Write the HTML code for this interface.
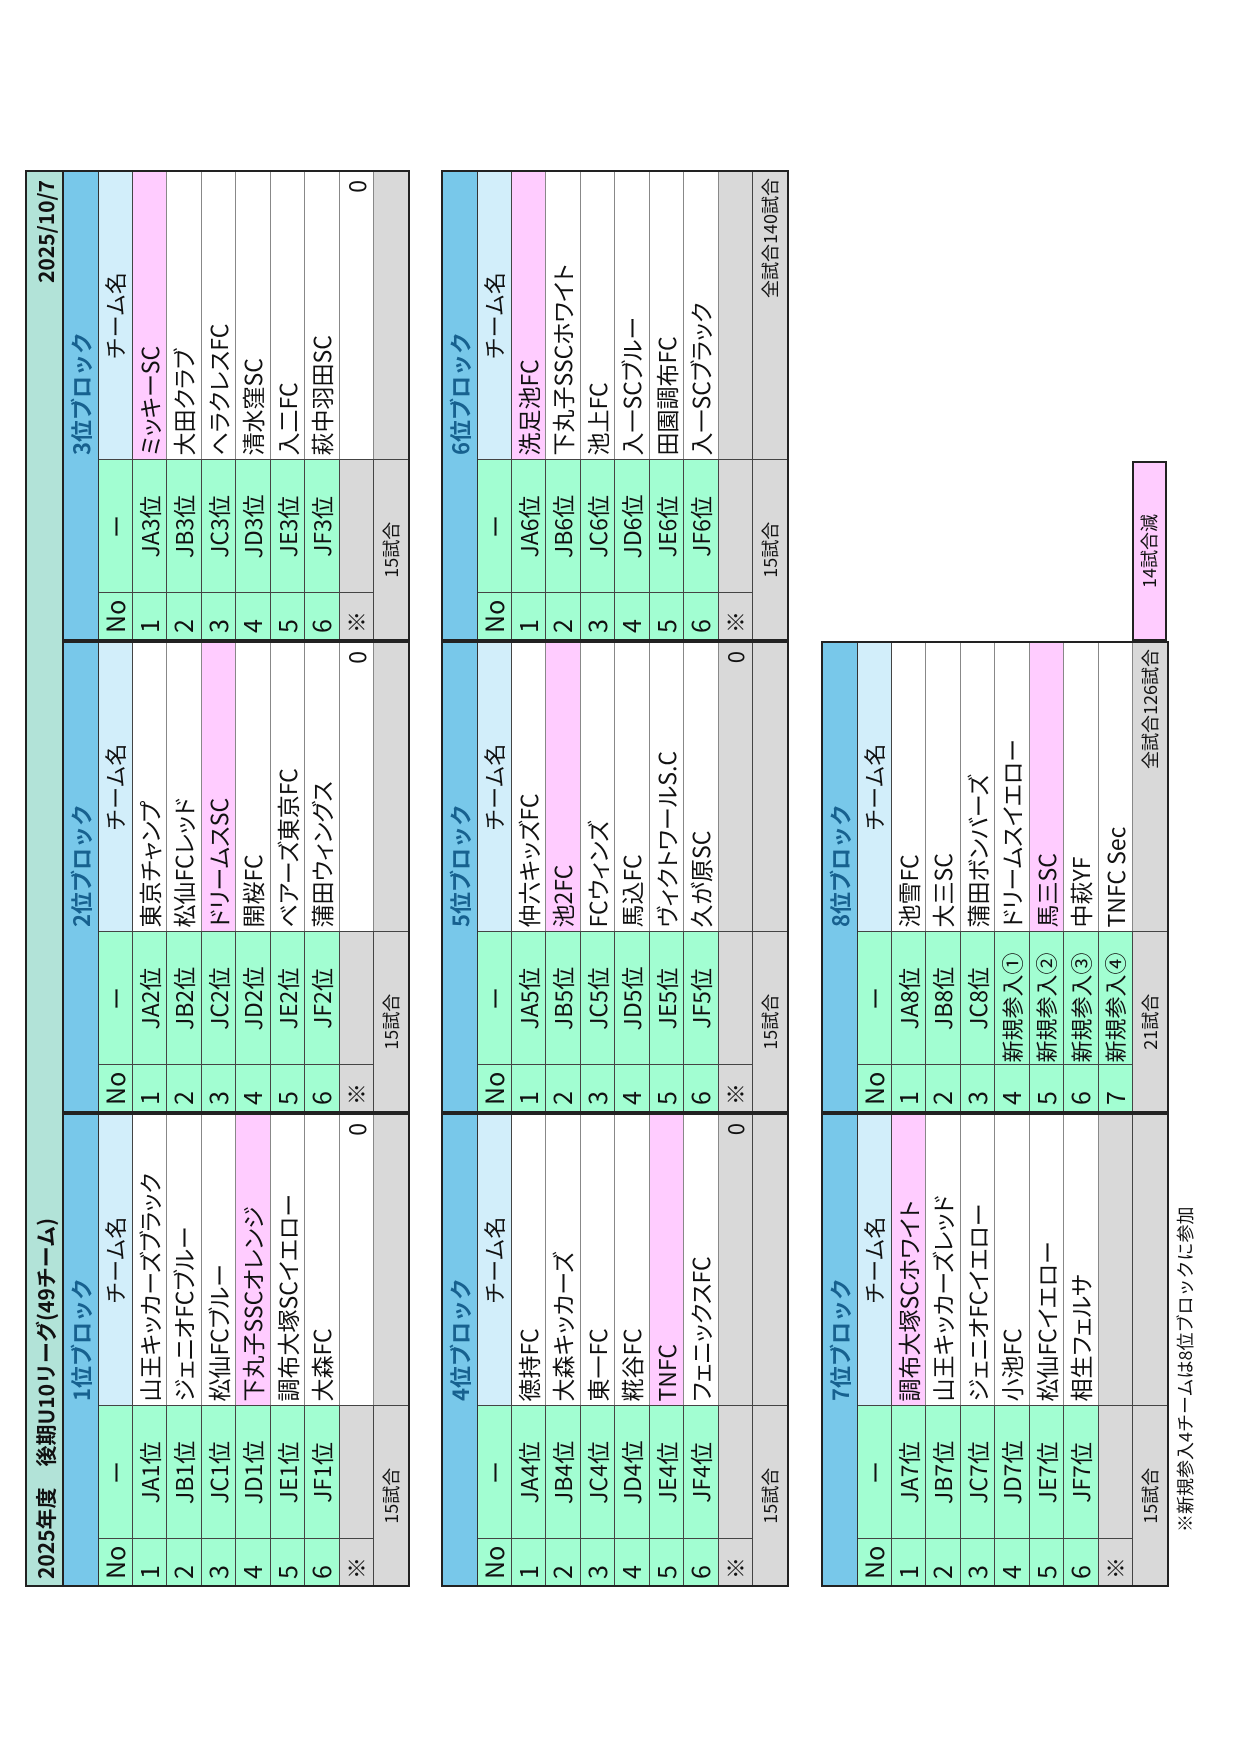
<!DOCTYPE html>
<html><head><meta charset="utf-8">
<style>
html,body{margin:0;padding:0;background:#fff;}
body{width:1240px;height:1754px;position:relative;overflow:hidden;}
#L{position:absolute;left:0;top:0;width:1754px;height:1240px;transform-origin:0 0;transform:translate(0,1754px) rotate(-90deg);font-family:"Noto Sans CJK JP","Liberation Sans",sans-serif;color:#111;}
table{position:absolute;border-collapse:collapse;table-layout:fixed;border:2.5px solid #222;}
td{border:1px solid #444;padding:0 0 0 6px;white-space:nowrap;overflow:hidden;font-size:22px;line-height:1;box-sizing:border-box;}
tr{height:34.5px;}
tr.bh{height:35px;}
tr.hd{height:34px;}
tr.ft{height:35px;}
td.bh{background:#78c8ea;color:#17618f;padding-left:184px;font-size:22px;font-weight:bold;border-bottom:1.5px solid #333;}
td.n{background:#a2fed2;font-size:25px;}
td.r{background:#a2fed2;text-align:center;padding:0;font-size:23px;}
td.t{background:#fff;border-top-color:#888;border-bottom-color:#888;padding-left:4px;font-feature-settings:"palt";font-size:23px;}
td.p{background:#ffccff;}
td.h{background:#d2eefa;text-align:center;padding:0;}
td.g{background:#d9d9d9;}
td.z{text-align:right;padding-right:8px;}
td.f{background:#d9d9d9;text-align:center;font-size:18px;padding:0;}
td.fr{background:#d9d9d9;text-align:right;font-size:18px;padding-right:6px;}
tr.ft td{border-top:1.5px solid #333;}
td.nw{font-size:22px;padding-left:2px;}
#title{position:absolute;left:167px;top:25px;width:1417px;height:37px;box-sizing:border-box;background:#b2e3d8;border:2.5px solid #222;border-bottom:none;font-weight:bold;font-size:21px;}
#title .a{position:absolute;left:6px;top:4px;}
#title .b{position:absolute;right:8px;top:4px;}
#pk{position:absolute;left:1113px;top:1132px;width:180px;height:35px;box-sizing:border-box;background:#ffccff;border:2.5px solid #222;font-size:18px;text-align:center;line-height:31px;}
#note{position:absolute;left:222px;top:1172px;font-size:18px;}
</style></head><body>
<div id="L">
<div id="title"><span class="a">2025年度　後期U10リーグ(49チーム)</span><span class="b">2025/10/7</span></div>

<table style="left:167px;top:62px;width:474px;">
<colgroup><col style="width:47px"><col style="width:133px"><col></colgroup>
<tr class="bh"><td class="bh" colspan="3">1位ブロック</td></tr>
<tr class="hd"><td class="n">No</td><td class="r">ー</td><td class="h">チーム名</td></tr>
<tr><td class="n">1</td><td class="r">JA1位</td><td class="t">山王キッカーズブラック</td></tr>
<tr><td class="n">2</td><td class="r">JB1位</td><td class="t">ジェニオFCブルー</td></tr>
<tr><td class="n">3</td><td class="r">JC1位</td><td class="t">松仙FCブルー</td></tr>
<tr><td class="n">4</td><td class="r">JD1位</td><td class="t p">下丸子SSCオレンジ</td></tr>
<tr><td class="n">5</td><td class="r">JE1位</td><td class="t">調布大塚SCイエロー</td></tr>
<tr><td class="n">6</td><td class="r">JF1位</td><td class="t">大森FC</td></tr>
<tr><td class="g">※</td><td class="g"></td><td class="t z">0</td></tr>
<tr class="ft"><td class="f" colspan="2">15試合</td><td class="fr"></td></tr>
</table>

<table style="left:641px;top:62px;width:472px;">
<colgroup><col style="width:47px"><col style="width:133px"><col></colgroup>
<tr class="bh"><td class="bh" colspan="3">2位ブロック</td></tr>
<tr class="hd"><td class="n">No</td><td class="r">ー</td><td class="h">チーム名</td></tr>
<tr><td class="n">1</td><td class="r">JA2位</td><td class="t">東京チャンプ</td></tr>
<tr><td class="n">2</td><td class="r">JB2位</td><td class="t">松仙FCレッド</td></tr>
<tr><td class="n">3</td><td class="r">JC2位</td><td class="t p">ドリームスSC</td></tr>
<tr><td class="n">4</td><td class="r">JD2位</td><td class="t">開桜FC</td></tr>
<tr><td class="n">5</td><td class="r">JE2位</td><td class="t">ベアーズ東京FC</td></tr>
<tr><td class="n">6</td><td class="r">JF2位</td><td class="t">蒲田ウィングス</td></tr>
<tr><td class="g">※</td><td class="g"></td><td class="t z">0</td></tr>
<tr class="ft"><td class="f" colspan="2">15試合</td><td class="fr"></td></tr>
</table>

<table style="left:1113px;top:62px;width:471px;">
<colgroup><col style="width:47px"><col style="width:133px"><col></colgroup>
<tr class="bh"><td class="bh" colspan="3">3位ブロック</td></tr>
<tr class="hd"><td class="n">No</td><td class="r">ー</td><td class="h">チーム名</td></tr>
<tr><td class="n">1</td><td class="r">JA3位</td><td class="t p">ミッキーSC</td></tr>
<tr><td class="n">2</td><td class="r">JB3位</td><td class="t">大田クラブ</td></tr>
<tr><td class="n">3</td><td class="r">JC3位</td><td class="t">ヘラクレスFC</td></tr>
<tr><td class="n">4</td><td class="r">JD3位</td><td class="t">清水窪SC</td></tr>
<tr><td class="n">5</td><td class="r">JE3位</td><td class="t">入二FC</td></tr>
<tr><td class="n">6</td><td class="r">JF3位</td><td class="t">萩中羽田SC</td></tr>
<tr><td class="g">※</td><td class="g"></td><td class="t z">0</td></tr>
<tr class="ft"><td class="f" colspan="2">15試合</td><td class="fr"></td></tr>
</table>

<table style="left:167px;top:441px;width:474px;">
<colgroup><col style="width:47px"><col style="width:133px"><col></colgroup>
<tr class="bh"><td class="bh" colspan="3">4位ブロック</td></tr>
<tr class="hd"><td class="n">No</td><td class="r">ー</td><td class="h">チーム名</td></tr>
<tr><td class="n">1</td><td class="r">JA4位</td><td class="t">徳持FC</td></tr>
<tr><td class="n">2</td><td class="r">JB4位</td><td class="t">大森キッカーズ</td></tr>
<tr><td class="n">3</td><td class="r">JC4位</td><td class="t">東一FC</td></tr>
<tr><td class="n">4</td><td class="r">JD4位</td><td class="t">糀谷FC</td></tr>
<tr><td class="n">5</td><td class="r">JE4位</td><td class="t p">TNFC</td></tr>
<tr><td class="n">6</td><td class="r">JF4位</td><td class="t">フェニックスFC</td></tr>
<tr><td class="g">※</td><td class="g"></td><td class="g z">0</td></tr>
<tr class="ft"><td class="f" colspan="2">15試合</td><td class="fr"></td></tr>
</table>

<table style="left:641px;top:441px;width:472px;">
<colgroup><col style="width:47px"><col style="width:133px"><col></colgroup>
<tr class="bh"><td class="bh" colspan="3">5位ブロック</td></tr>
<tr class="hd"><td class="n">No</td><td class="r">ー</td><td class="h">チーム名</td></tr>
<tr><td class="n">1</td><td class="r">JA5位</td><td class="t">仲六キッズFC</td></tr>
<tr><td class="n">2</td><td class="r">JB5位</td><td class="t p">池2FC</td></tr>
<tr><td class="n">3</td><td class="r">JC5位</td><td class="t">FCウィンズ</td></tr>
<tr><td class="n">4</td><td class="r">JD5位</td><td class="t">馬込FC</td></tr>
<tr><td class="n">5</td><td class="r">JE5位</td><td class="t">ヴィクトワールS.C</td></tr>
<tr><td class="n">6</td><td class="r">JF5位</td><td class="t">久が原SC</td></tr>
<tr><td class="g">※</td><td class="g"></td><td class="g z">0</td></tr>
<tr class="ft"><td class="f" colspan="2">15試合</td><td class="fr"></td></tr>
</table>

<table style="left:1113px;top:441px;width:471px;">
<colgroup><col style="width:47px"><col style="width:133px"><col></colgroup>
<tr class="bh"><td class="bh" colspan="3">6位ブロック</td></tr>
<tr class="hd"><td class="n">No</td><td class="r">ー</td><td class="h">チーム名</td></tr>
<tr><td class="n">1</td><td class="r">JA6位</td><td class="t p">洗足池FC</td></tr>
<tr><td class="n">2</td><td class="r">JB6位</td><td class="t">下丸子SSCホワイト</td></tr>
<tr><td class="n">3</td><td class="r">JC6位</td><td class="t">池上FC</td></tr>
<tr><td class="n">4</td><td class="r">JD6位</td><td class="t">入一SCブルー</td></tr>
<tr><td class="n">5</td><td class="r">JE6位</td><td class="t">田園調布FC</td></tr>
<tr><td class="n">6</td><td class="r">JF6位</td><td class="t">入一SCブラック</td></tr>
<tr><td class="g">※</td><td class="g"></td><td class="g"></td></tr>
<tr class="ft"><td class="f" colspan="2">15試合</td><td class="fr">全試合140試合</td></tr>
</table>

<table style="left:167px;top:821px;width:474px;">
<colgroup><col style="width:47px"><col style="width:133px"><col></colgroup>
<tr class="bh"><td class="bh" colspan="3">7位ブロック</td></tr>
<tr class="hd"><td class="n">No</td><td class="r">ー</td><td class="h">チーム名</td></tr>
<tr><td class="n">1</td><td class="r">JA7位</td><td class="t p">調布大塚SCホワイト</td></tr>
<tr><td class="n">2</td><td class="r">JB7位</td><td class="t">山王キッカーズレッド</td></tr>
<tr><td class="n">3</td><td class="r">JC7位</td><td class="t">ジェニオFCイエロー</td></tr>
<tr><td class="n">4</td><td class="r">JD7位</td><td class="t">小池FC</td></tr>
<tr><td class="n">5</td><td class="r">JE7位</td><td class="t">松仙FCイエロー</td></tr>
<tr><td class="n">6</td><td class="r">JF7位</td><td class="t">相生フェルサ</td></tr>
<tr><td class="g">※</td><td class="g"></td><td class="g"></td></tr>
<tr class="ft"><td class="f" colspan="2">15試合</td><td class="fr"></td></tr>
</table>

<table style="left:641px;top:821px;width:472px;">
<colgroup><col style="width:47px"><col style="width:133px"><col></colgroup>
<tr class="bh"><td class="bh" colspan="3">8位ブロック</td></tr>
<tr class="hd"><td class="n">No</td><td class="r">ー</td><td class="h">チーム名</td></tr>
<tr><td class="n">1</td><td class="r">JA8位</td><td class="t">池雪FC</td></tr>
<tr><td class="n">2</td><td class="r">JB8位</td><td class="t">大三SC</td></tr>
<tr><td class="n">3</td><td class="r">JC8位</td><td class="t">蒲田ボンバーズ</td></tr>
<tr><td class="n">4</td><td class="n nw">新規参入①</td><td class="t">ドリームスイエロー</td></tr>
<tr><td class="n">5</td><td class="n nw">新規参入②</td><td class="t p">馬三SC</td></tr>
<tr><td class="n">6</td><td class="n nw">新規参入③</td><td class="t">中萩YF</td></tr>
<tr><td class="n">7</td><td class="n nw">新規参入④</td><td class="t">TNFC Sec</td></tr>
<tr class="ft"><td class="f" colspan="2">21試合</td><td class="fr">全試合126試合</td></tr>
</table>

<div id="pk">14試合減</div>
<div id="note">※新規参入4チームは8位ブロックに参加</div>
</div>
</body></html>
